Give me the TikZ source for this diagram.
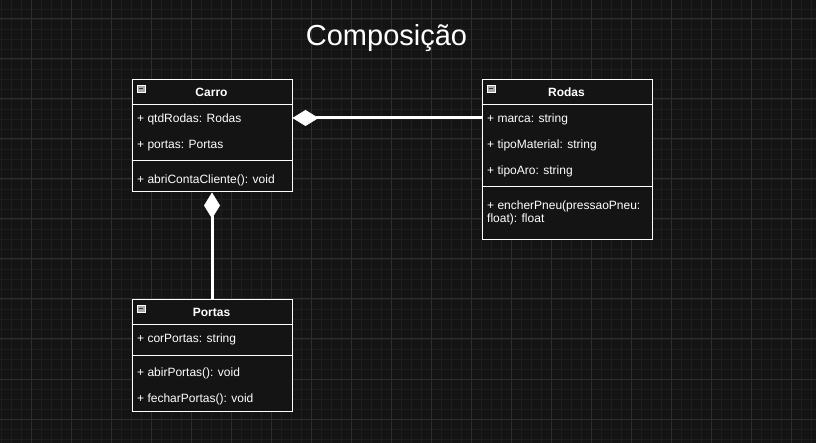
\documentclass[tikz,border=0pt]{standalone}
\usepackage{fontspec}
\setmainfont{Liberation Sans}
\usetikzlibrary{arrows.meta}
\definecolor{bg}{HTML}{141414}
\definecolor{gmajor}{HTML}{2E2E2E}
\definecolor{gminor}{HTML}{1E1E1E}
\definecolor{icongray}{HTML}{A8A8A8}
\begin{document}
\begin{tikzpicture}[x=1pt,y=-1pt,
  classbox/.style={draw=white, line width=1pt, fill=bg, anchor=north west, minimum width=160pt, inner sep=0pt},
  member/.style={anchor=base west, text=white, inner sep=0pt, font=\fontsize{12}{13.8}\selectfont},
  header/.style={anchor=base, text=white, inner sep=0pt, font=\bfseries\fontsize{12}{14}\selectfont},
  sepline/.style={draw=white, line width=1pt},
  comp/.style={draw=white, line width=3pt, -{Diamond[length=26pt,width=16pt,line width=0.5pt,fill=white]}},
  icon/.style={draw=white, fill=icongray, line width=0.6pt, minimum size=7.5pt, inner sep=0pt, anchor=north west}
]
\fill[bg] (0,0) rectangle (816,443);
\useasboundingbox (0,0) rectangle (816,443);
% grid
\foreach \x in {1,11,...,811} \draw[gminor, line width=0.8pt] (\x,0) -- (\x,443);
\foreach \y in {9,19,...,439} \draw[gminor, line width=0.8pt] (0,\y) -- (816,\y);
\foreach \x in {31,71,...,811} \draw[gmajor, line width=1pt] (\x,0) -- (\x,443);
\foreach \y in {19,59,...,439} \draw[gmajor, line width=1pt] (0,\y) -- (816,\y);

% title
\node[text=white, font=\fontsize{29}{32}\selectfont, inner sep=0pt, anchor=base] (title) at (386.5,45.5) {Composição};

% Carro
\node[classbox, minimum height=112pt] (carro) at (131.5,79.5) {};
\draw[sepline] (131.5,105) -- (291.5,105);
\draw[sepline] (131.5,161) -- (291.5,161);
\node[icon] (ic1) at (137,85) {};
\draw[black!80, line width=1pt] (138.5,89) -- (143,89);
\node[header] (carroT) at (211.5,96.5) {Carro};
\node[member] (cq) at (137,122.3) {+ qtdRodas: Rodas};
\node[member] (cp) at (137,148.3) {+ portas: Portas};
\node[member] (cm) at (137,183.3) {+ abriContaCliente(): void};

% Rodas
\node[classbox, minimum width=170pt, minimum height=159.5pt] (rodas) at (481.5,79.5) {};
\draw[sepline] (481.5,105) -- (651.5,105);
\draw[sepline] (481.5,187) -- (651.5,187);
\node[icon] (ic2) at (487,85) {};
\draw[black!80, line width=1pt] (488.5,89) -- (493,89);
\node[header] (rodasT) at (566.5,96.5) {Rodas};
\node[member] (rm) at (487,122.3) {+ marca: string};
\node[member] (rt) at (487,148.3) {+ tipoMaterial: string};
\node[member] (ra) at (487,174.3) {+ tipoAro: string};
\node[member] (re1) at (487,209.3) {+ encherPneu(pressaoPneu:};
\node[member] (re2) at (487,222.3) {float): float};

% Portas
\node[classbox, minimum height=111pt] (portas) at (131.5,299.5) {};
\draw[sepline] (131.5,325) -- (291.5,325);
\draw[sepline] (131.5,355) -- (291.5,355);
\node[icon] (ic3) at (137,305) {};
\draw[black!80, line width=1pt] (138.5,309) -- (143,309);
\node[header] (portasT) at (211.5,316.5) {Portas};
\node[member] (pc) at (137,342.3) {+ corPortas: string};
\node[member] (pa) at (137,376.3) {+ abirPortas(): void};
\node[member] (pf) at (137,402.3) {+ fecharPortas(): void};

% compositions
\coordinate (hy) at (0,118);
\draw[comp] (rodas.west |- hy) -- (carro.east |- hy);
\draw[comp] (portas.north) -- (carro.south);
\end{tikzpicture}
\end{document}
